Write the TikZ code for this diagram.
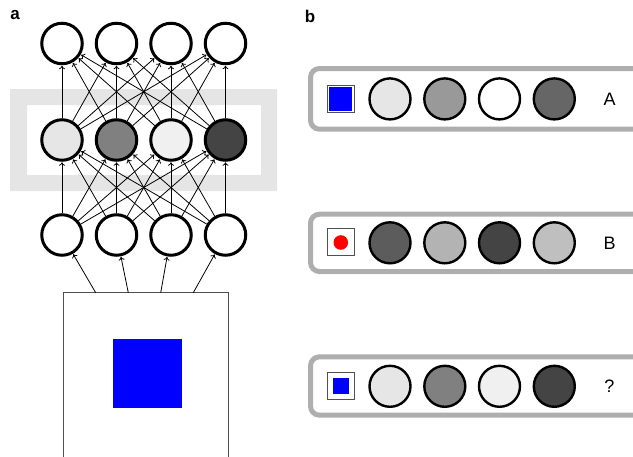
\documentclass[tikz,border=0pt]{standalone}
\usepackage{fontspec}
\setmainfont{Liberation Sans}
\usetikzlibrary{arrows.meta}

\definecolor{bandgray}{HTML}{E5E5E5}
\definecolor{framegray}{HTML}{AEAEAE}
\definecolor{lineg}{HTML}{505050}

\tikzset{
  neuron/.style={circle, draw=black, line width=3pt, minimum size=40.5pt, inner sep=0pt},
  unit/.style={circle, draw=black, line width=2.4pt, minimum size=41pt, inner sep=0pt},
  conn/.style={draw=black, line width=0.8pt, -{To[length=3.5pt,width=6pt]}, shorten >=0.5pt},
  panel/.style={draw=framegray, line width=5pt, rounded corners=9pt, fill=white},
  icon/.style={draw=lineg, line width=1pt, fill=white, minimum size=27pt, inner sep=0pt},
  tag/.style={font=\fontsize{18}{20}\selectfont},
  plabel/.style={font=\fontsize{17}{19}\selectfont\bfseries}
}

\begin{document}
\begin{tikzpicture}[x=1pt, y=-1pt]
\useasboundingbox (0,0) rectangle (633,456);

% panel labels
\node[plabel] (la) at (15,15) {a};
\node[plabel] (lb) at (310,16) {b};

% highlighted hidden layer band
\fill[bandgray, even odd rule] (10,89) rectangle (277,191) (27,105) rectangle (261,175);

% network layers
\foreach \k/\x in {1/62, 2/116.5, 3/171, 4/225.5}
  \node[neuron, fill=white] (o-\k) at (\x,43.5) {};
\node[neuron, fill={rgb,255:red,230;green,230;blue,230}] (h-1) at (62,140) {};
\node[neuron, fill={rgb,255:red,128;green,128;blue,128}] (h-2) at (116.5,140) {};
\node[neuron, fill={rgb,255:red,240;green,240;blue,240}] (h-3) at (171,140) {};
\node[neuron, fill={rgb,255:red,68;green,68;blue,68}] (h-4) at (225.5,140) {};
\foreach \k/\x in {1/62, 2/116.5, 3/171, 4/225.5}
  \node[neuron, fill=white] (in-\k) at (\x,235) {};

% all-to-all connections
\foreach \i in {1,...,4}
  \foreach \j in {1,...,4} {
    \draw[conn] (in-\i) -- (h-\j);
    \draw[conn] (h-\i) -- (o-\j);
  }

% input image
\draw[lineg, line width=1.2pt, fill=white] (63.5,470) -- (63.5,292.7) -- (228.3,292.7) -- (228.3,470);
\fill[blue] (112.5,339) rectangle (182,408.3);
\foreach \k/\x in {1/95.7, 2/128.3, 3/160.7, 4/193.3}
  \coordinate (p-\k) at (\x,292.7);
\foreach \k in {1,...,4}
  \draw[conn] (p-\k) -- (in-\k);

% panel b: three labelled examples
\draw[panel] (310.5,68.5) rectangle (650,129.2);
\draw[panel] (310.5,214.2) rectangle (650,271.5);
\draw[panel] (310.5,356.8) rectangle (650,415.2);

% row A
\node[icon] (ia) at (340.5,98.9) {};
\fill[blue] (329,87.3) rectangle (352.2,110.6);
\node[unit, fill={rgb,255:red,230;green,230;blue,230}] (a-1) at (390,98.9) {};
\node[unit, fill={rgb,255:red,153;green,153;blue,153}] (a-2) at (444.8,98.9) {};
\node[unit, fill=white] (a-3) at (499.5,98.9) {};
\node[unit, fill={rgb,255:red,102;green,102;blue,102}] (a-4) at (554.3,98.9) {};
\node[tag] (ta) at (609.5,99) {A};

% row B
\node[icon] (ib) at (340.8,241.8) {};
\fill[red] (340.8,242.5) circle (7.3pt);
\node[unit, fill={rgb,255:red,92;green,92;blue,92}] (b-1) at (390,242.8) {};
\node[unit, fill={rgb,255:red,179;green,179;blue,179}] (b-2) at (444.8,242.8) {};
\node[unit, fill={rgb,255:red,68;green,68;blue,68}] (b-3) at (499.5,242.8) {};
\node[unit, fill={rgb,255:red,191;green,191;blue,191}] (b-4) at (554.3,242.8) {};
\node[tag] (tb) at (609.5,243) {B};

% query row
\node[icon] (iq) at (340.8,386) {};
\fill[blue] (332.7,377.8) rectangle (349.3,394.3);
\node[unit, fill={rgb,255:red,230;green,230;blue,230}] (q-1) at (390,386.3) {};
\node[unit, fill={rgb,255:red,128;green,128;blue,128}] (q-2) at (444.8,386.3) {};
\node[unit, fill={rgb,255:red,240;green,240;blue,240}] (q-3) at (499.5,386.3) {};
\node[unit, fill={rgb,255:red,68;green,68;blue,68}] (q-4) at (554.3,386.3) {};
\node[tag] (tq) at (609.5,386.5) {?};
\end{tikzpicture}
\end{document}
